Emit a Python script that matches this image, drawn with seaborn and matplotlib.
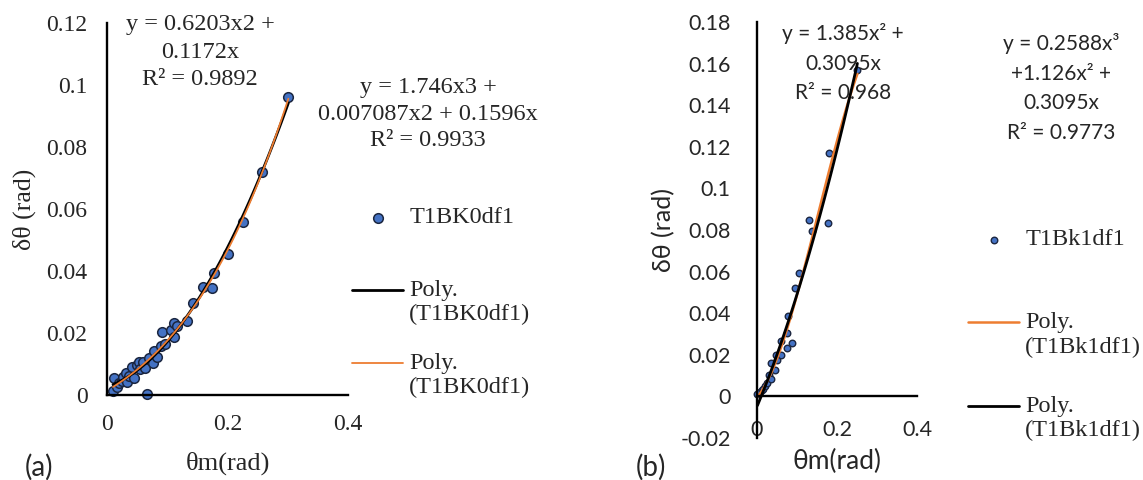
import numpy as np
import pandas as pd
import matplotlib
matplotlib.use("Agg")
import matplotlib.pyplot as plt
import seaborn as sns

# ---------------- data ----------------
a_series = "T1BK0df1"
a_theta_m = [0.010, 0.012, 0.017, 0.020, 0.025, 0.027, 0.031, 0.033, 0.036, 0.041, 0.045,
             0.050, 0.053, 0.055, 0.060, 0.063, 0.066, 0.070, 0.076, 0.078, 0.083, 0.089,
             0.091, 0.096, 0.106, 0.111, 0.112, 0.116, 0.132, 0.142, 0.160, 0.174, 0.177,
             0.200, 0.225, 0.258, 0.301]
a_dtheta = [0.0013, 0.0055, 0.0026, 0.0040, 0.0045, 0.0058, 0.0071, 0.0042, 0.0062, 0.0090,
            0.0055, 0.0097, 0.0106, 0.0085, 0.0106, 0.0087, 0.0003, 0.0118, 0.0103, 0.0142,
            0.0123, 0.0158, 0.0203, 0.0165, 0.0210, 0.0187, 0.0232, 0.0223, 0.0239, 0.0297,
            0.0350, 0.0345, 0.0394, 0.0455, 0.0558, 0.0720, 0.0961]
a_eq_quad = "y = 0.6203x2 +\n0.1172x\nR² = 0.9892"
a_eq_cubic = "y = 1.746x3 +\n0.007087x2 + 0.1596x\nR² = 0.9933"
a_xticks = [0, 0.2, 0.4]
a_yticks = [0, 0.02, 0.04, 0.06, 0.08, 0.10, 0.12]

b_series = "T1Bk1df1"
b_theta_m = [0.001, 0.008, 0.012, 0.016, 0.020, 0.026, 0.031, 0.035, 0.035, 0.045, 0.047,
             0.051, 0.060, 0.060, 0.074, 0.076, 0.078, 0.088, 0.095, 0.106, 0.130, 0.137,
             0.177, 0.180, 0.251]
b_dtheta = [0.0010, 0.0021, 0.0030, 0.0037, 0.0050, 0.0066, 0.0101, 0.0082, 0.0162, 0.0125,
            0.0198, 0.0173, 0.0198, 0.0267, 0.0307, 0.0231, 0.0387, 0.0255, 0.0519, 0.0593,
            0.0850, 0.0797, 0.0835, 0.1170, 0.1570]
b_eq_quad = "y = 1.385x² +\n0.3095x\nR² = 0.968"
b_eq_cubic = "y = 0.2588x³\n+1.126x² +\n0.3095x\nR² = 0.9773"
b_xticks = [0, 0.2, 0.4]
b_yticks = [-0.02, 0, 0.02, 0.04, 0.06, 0.08, 0.10, 0.12, 0.14, 0.16, 0.18]

dfa = pd.DataFrame({"theta_m": a_theta_m, "dtheta": a_dtheta})
dfb = pd.DataFrame({"theta_m": b_theta_m, "dtheta": b_dtheta})

# ---------------- style ----------------
sns.set_style("white")
SERIF = ["Liberation Serif", "DejaVu Serif"]
SANS = ["Lato", "DejaVu Sans"]
plt.rcParams["font.family"] = SERIF
BLUE = "#4472C4"
EDGE = "#1b2640"
ORANGE = "#ED7D31"

W, H = 1143, 480
fig = plt.figure(figsize=(W / 100, H / 100), dpi=100)


def rect(x0, y0, x1, y1):
    return [x0 / W, 1 - y1 / H, (x1 - x0) / W, (y1 - y0) / H]


axa = fig.add_axes(rect(107, 23, 348, 395))
axb = fig.add_axes(rect(757, 22, 917, 438))


def fmt(v):
    return "%g" % v


def style_axes(ax, pad):
    for s in ["top", "right"]:
        ax.spines[s].set_visible(False)
    for s in ["left", "bottom"]:
        ax.spines[s].set_color("black")
        ax.spines[s].set_linewidth(1.7)
    ax.tick_params(length=0, pad=pad)
    ax.grid(False)


def fix_legend(leg):
    try:
        for col in leg._legend_handle_box.get_children():
            for item in col.get_children():
                item.align = "top"
    except Exception:
        pass


# ---------------- panel (a) ----------------
sns.scatterplot(data=dfa, x="theta_m", y="dtheta", ax=axa, s=48, color=BLUE,
                edgecolor=EDGE, linewidth=1.1, clip_on=False)
sns.regplot(data=dfa, x="theta_m", y="dtheta", ax=axa, order=2, ci=None, scatter=False,
            color="black", line_kws={"lw": 2.0})
sns.regplot(data=dfa, x="theta_m", y="dtheta", ax=axa, order=3, ci=None, scatter=False,
            color=ORANGE, line_kws={"lw": 1.3})
axa.set_xlim(0, 0.4)
axa.set_ylim(0, 0.12)
style_axes(axa, 14)
axa.set_xticks(a_xticks, labels=[fmt(v) for v in a_xticks], fontsize=17, fontfamily=SERIF)
axa.set_yticks(a_yticks, labels=[fmt(v) for v in a_yticks], fontsize=17, fontfamily=SERIF)
axa.set_xlabel("θm(rad)", fontsize=19, fontfamily=SERIF)
axa.set_ylabel("δθ (rad)", fontsize=18.5, fontfamily=SERIF)
axa.xaxis.set_label_coords(0.5, -(452 - 395) / 372)
axa.yaxis.set_label_coords(-(107 - 36) / 241, 0.5)

handles_a = [axa.collections[0], axa.lines[0], axa.lines[1]]
labels_a = [a_series + "\n ", "Poly.\n(" + a_series + ")", "Poly.\n(" + a_series + ")"]
lega = axa.legend(handles_a, labels_a, loc="upper left", bbox_to_anchor=(352 / W, 1 - 207 / H),
                  bbox_transform=fig.transFigure, frameon=False, fontsize=17.5,
                  handlelength=2.1, handleheight=1.1, handletextpad=0.25,
                  labelspacing=1.14, borderpad=0, borderaxespad=0, markerscale=1.0)
for t in lega.get_texts():
    t.set_fontfamily(SERIF)
fix_legend(lega)

fig.text(200 / W, 1 - 52 / H, a_eq_quad, ha="center", va="center", fontsize=17.5,
         fontfamily=SERIF, linespacing=1.42)
fig.text(428 / W, 1 - 114 / H, a_eq_cubic, ha="center", va="center", fontsize=17.5,
         fontfamily=SERIF, linespacing=1.37)

# ---------------- panel (b) ----------------
sns.scatterplot(data=dfb, x="theta_m", y="dtheta", ax=axb, s=22, color=BLUE,
                edgecolor=EDGE, linewidth=1.0, clip_on=False)
sns.regplot(data=dfb, x="theta_m", y="dtheta", ax=axb, order=3, ci=None, scatter=False,
            color=ORANGE, line_kws={"lw": 1.8})
sns.regplot(data=dfb, x="theta_m", y="dtheta", ax=axb, order=2, ci=None, scatter=False,
            color="black", line_kws={"lw": 2.0})
axb.set_xlim(0, 0.4)
axb.set_ylim(-0.02, 0.18)
style_axes(axb, 17)
axb.spines["bottom"].set_position(("data", 0))
axb.tick_params(axis="y", pad=19)
axb.set_xticks(b_xticks, labels=[fmt(v) for v in b_xticks], fontsize=15.5, fontfamily=SANS)
axb.set_yticks(b_yticks, labels=[fmt(v) for v in b_yticks], fontsize=15.5, fontfamily=SANS)
axb.set_xlabel("θm(rad)", fontsize=19, fontfamily=SANS)
axb.set_ylabel("δθ (rad)", fontsize=18, fontfamily=SANS)
axb.xaxis.set_label_coords(0.5, -(449 - 438) / 416)
axb.yaxis.set_label_coords(-(757 - 675) / 160, 0.5)

handles_b = [axb.collections[0], axb.lines[0], axb.lines[1]]
labels_b = [b_series + "\n ", "Poly.\n(" + b_series + ")", "Poly.\n(" + b_series + ")"]
legb = axb.legend(handles_b, labels_b, loc="upper left", bbox_to_anchor=(968 / W, 1 - 229 / H),
                  bbox_transform=fig.transFigure, frameon=False, fontsize=17.5,
                  handlelength=2.1, handleheight=1.1, handletextpad=0.25,
                  labelspacing=1.57, borderpad=0, borderaxespad=0)
for t in legb.get_texts():
    t.set_fontfamily(SERIF)
fix_legend(legb)

fig.text(843 / W, 1 - 63 / H, b_eq_quad, ha="center", va="center", fontsize=15,
         fontfamily=SANS, linespacing=1.6)
fig.text(1061 / W, 1 - 88 / H, b_eq_cubic, ha="center", va="center", fontsize=15,
         fontfamily=SANS, linespacing=1.62)

# panel letters
fig.text(39 / W, 1 - 467 / H, "(a)", ha="center", va="center", fontsize=20, fontfamily=SANS)
fig.text(651 / W, 1 - 467 / H, "(b)", ha="center", va="center", fontsize=20, fontfamily=SANS)

fig.savefig("out.png", dpi=100)
